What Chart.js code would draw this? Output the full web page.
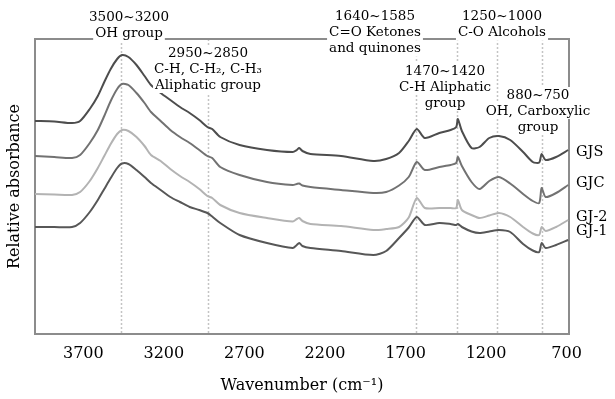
<!DOCTYPE html>
<html>
<head>
<meta charset="utf-8">
<title>FTIR spectra</title>
<script src="https://cdn.jsdelivr.net/npm/chart.js@4.4.1/dist/chart.umd.min.js"></script>
<style>
    html, body { margin: 0; padding: 0; background: #fff; }
    #wrap { width: 615px; height: 399px; }
</style>
</head>
<body>
<div id="wrap"><canvas id="ftir-chart" width="615" height="399"></canvas></div>
<script>
// Wavenumbers (cm-1) shared by all spectra
const wavenumbers = [4000, 3880, 3770, 3720, 3660, 3610, 3570, 3530, 3490, 3460,
    3420, 3370, 3320, 3280, 3220, 3160, 3100, 3040, 2980, 2930,
    2900, 2850, 2730, 2560, 2400, 2375, 2360, 2340, 2290, 2100,
    1900, 1820, 1740, 1680, 1630, 1580, 1490, 1420, 1385, 1375,
    1350, 1290, 1240, 1180, 1120, 1050, 970, 910, 870, 855,
    830, 765, 690];

// Relative absorbance (stacked, arbitrary units)
const gjs = [2.13, 2.125, 2.11, 2.13, 2.25, 2.38, 2.52, 2.65, 2.75, 2.79,
    2.77, 2.69, 2.58, 2.49, 2.41, 2.34, 2.27, 2.21, 2.14, 2.07,
    2.05, 1.97, 1.89, 1.84, 1.82, 1.84, 1.86, 1.83, 1.80, 1.78,
    1.73, 1.75, 1.81, 1.93, 2.05, 1.96, 2.01, 2.04, 2.07, 2.15,
    2.03, 1.86, 1.87, 1.96, 1.98, 1.94, 1.82, 1.72, 1.715, 1.80,
    1.74, 1.77, 1.84];
const gjc = [1.78, 1.77, 1.76, 1.79, 1.91, 2.04, 2.18, 2.33, 2.45, 2.50,
    2.49, 2.41, 2.31, 2.22, 2.13, 2.04, 1.97, 1.91, 1.84, 1.78,
    1.76, 1.67, 1.59, 1.52, 1.49, 1.50, 1.505, 1.485, 1.47, 1.44,
    1.41, 1.42, 1.485, 1.57, 1.72, 1.64, 1.67, 1.69, 1.71, 1.77,
    1.68, 1.52, 1.45, 1.53, 1.57, 1.505, 1.40, 1.33, 1.31, 1.46,
    1.37, 1.41, 1.49];
const gj2 = [1.40, 1.395, 1.39, 1.42, 1.53, 1.66, 1.78, 1.90, 2.00, 2.04,
    2.03, 1.97, 1.88, 1.79, 1.73, 1.65, 1.58, 1.52, 1.45, 1.38,
    1.36, 1.29, 1.21, 1.16, 1.125, 1.15, 1.16, 1.13, 1.10, 1.08,
    1.04, 1.05, 1.07, 1.165, 1.36, 1.26, 1.26, 1.26, 1.26, 1.34,
    1.24, 1.19, 1.16, 1.185, 1.21, 1.17, 1.07, 1.005, 0.99, 1.07,
    1.03, 1.07, 1.14];
const gj1 = [1.07, 1.07, 1.07, 1.11, 1.22, 1.34, 1.45, 1.56, 1.66, 1.705,
    1.70, 1.64, 1.57, 1.51, 1.44, 1.37, 1.32, 1.27, 1.24, 1.21,
    1.175, 1.11, 0.99, 0.91, 0.86, 0.89, 0.91, 0.88, 0.86, 0.83,
    0.79, 0.83, 0.96, 1.065, 1.17, 1.09, 1.11, 1.10, 1.09, 1.10,
    1.07, 1.025, 1.01, 1.025, 1.04, 1.02, 0.90, 0.835, 0.82, 0.91,
    0.86, 0.89, 0.94];

const seriesNames = ['GJS', 'GJC', 'GJ-2', 'GJ-1'];
const xTicks = [3700, 3200, 2700, 2200, 1700, 1200, 700];

// Band positions marked with dotted lines
const bandLines = [3466, 2928, 1632, 1380, 1132, 855];

// Band labels: [centre x, first line y, lines]
const bandNotes = [
    [129, 17.5, ['3500~3200', 'OH group']],
    [208, 53, ['2950~2850', 'C-H, C-H\u2082, C-H\u2083', 'Aliphatic group']],
    [375, 16.7, ['1640~1585', 'C=O Ketones', 'and quinones']],
    [502, 16.7, ['1250~1000', 'C-O Alcohols']],
    [445, 71, ['1470~1420', 'C-H Aliphatic', 'group']],
    [538, 95, ['880~750', 'OH, Carboxylic', 'group']]
];

const serif = "'DejaVu Serif', 'Liberation Serif', serif";

document.addEventListener('DOMContentLoaded', function() {
    const ctx = document.getElementById('ftir-chart');

    // Frame + dotted band lines behind the spectra
    const framePlugin = {
        id: 'framePlugin',
        beforeDatasetsDraw(chart) {
            const c = chart.ctx;
            const area = chart.chartArea;
            const x = chart.scales.x;
            c.save();
            c.strokeStyle = '#c4c4c4';
            c.lineWidth = 1.5;
            c.setLineDash([2, 2]);
            bandLines.forEach(function(wn) {
                const px = Math.round(x.getPixelForValue(wn)) + 0.5;
                c.beginPath();
                c.moveTo(px, area.top);
                c.lineTo(px, area.bottom);
                c.stroke();
            });
            c.setLineDash([]);
            c.strokeStyle = '#8c8c8c';
            c.lineWidth = 2;
            c.strokeRect(area.left, area.top, area.right - area.left, area.bottom - area.top);
            c.restore();
        },
        afterDatasetsDraw(chart) {
            const c = chart.ctx;
            const y = chart.scales.y;
            c.save();
            c.font = '13.5px ' + serif;
            c.textAlign = 'center';
            c.textBaseline = 'middle';
            bandNotes.forEach(function(note) {
                note[2].forEach(function(line, i) {
                    const cy = note[1] + i * 16;
                    const w = c.measureText(line).width;
                    c.fillStyle = '#fff';
                    c.fillRect(note[0] - w / 2 - 2, cy - 8, w + 4, 16);
                    c.fillStyle = '#000';
                    c.fillText(line, note[0], cy);
                });
            });

            // Series names at the right end of each curve
            const offsets = [2, -2, -3, -9];
            c.font = '14.5px ' + serif;
            c.textAlign = 'left';
            chart.data.datasets.forEach(function(ds, i) {
                const last = ds.data[ds.data.length - 1];
                c.fillStyle = '#000';
                c.fillText(ds.label, chart.chartArea.right + 7, y.getPixelForValue(last.y) + offsets[i]);
            });
            c.restore();
        }
    };

    function toPoints(values) {
        return wavenumbers.map((wn, i) => ({ x: wn, y: values[i] }));
    }

    const colors = ['#4d4d4d', '#727272', '#b3b3b3', '#575757'];
    const values = [gjs, gjc, gj2, gj1];

    new Chart(ctx, {
        type: 'line',
        data: {
            datasets: seriesNames.map((name, i) => ({
                label: name,
                data: toPoints(values[i]),
                borderColor: colors[i],
                borderWidth: 2,
                pointRadius: 0,
                tension: 0.25,
                fill: false
            }))
        },
        options: {
            responsive: false,
            animation: false,
            layout: {
                padding: { top: 39, right: 46, left: 0, bottom: 0 }
            },
            plugins: {
                legend: { display: false },
                tooltip: { enabled: false }
            },
            scales: {
                x: {
                    type: 'linear',
                    reverse: true,
                    min: 685,
                    max: 4000,
                    grid: { display: false, drawTicks: false },
                    border: { display: false },
                    afterBuildTicks: function(scale) {
                        scale.ticks = xTicks.map(v => ({ value: v }));
                    },
                    afterFit: function(scale) {
                        scale.height = 65;
                    },
                    ticks: {
                        autoSkip: false,
                        maxRotation: 0,
                        padding: 10,
                        color: '#000',
                        font: { family: serif, size: 16 },
                        callback: v => String(v)
                    },
                    title: {
                        display: true,
                        text: 'Wavenumber (cm\u207B\u00B9)',
                        color: '#000',
                        font: { family: serif, size: 16 },
                        padding: { top: 0, bottom: 4 }
                    }
                },
                y: {
                    min: 0,
                    max: 2.95,
                    grid: { display: false, drawTicks: false },
                    border: { display: false },
                    ticks: { display: false },
                    afterFit: function(scale) {
                        scale.width = 35;
                    },
                    title: {
                        display: true,
                        text: 'Relative absorbance',
                        color: '#000',
                        font: { family: serif, size: 16 },
                        padding: { top: 5, bottom: 0 }
                    }
                }
            }
        },
        plugins: [framePlugin]
    });
});
</script>
</body>
</html>
